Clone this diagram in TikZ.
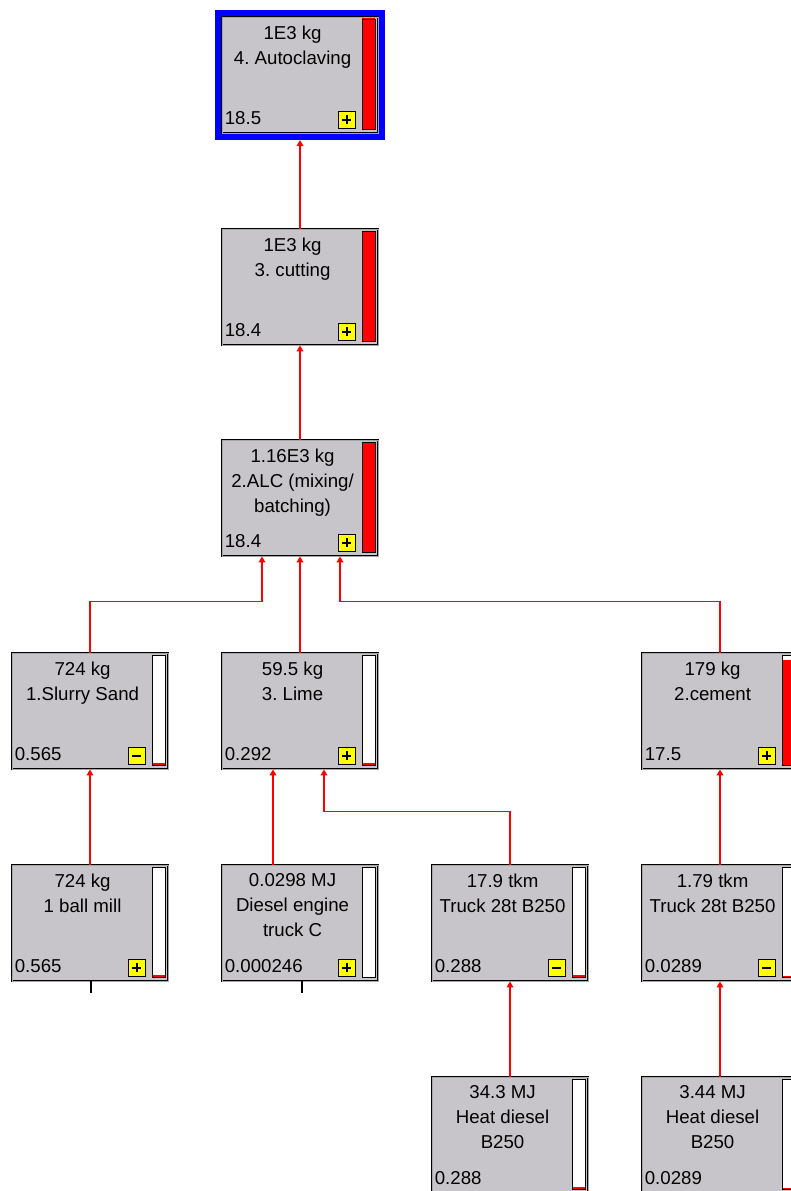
\documentclass[tikz,border=0pt]{standalone}
\usepackage{fontspec}
\setmainfont{Liberation Sans}
\usepackage{xcolor}
\usetikzlibrary{arrows.meta, calc}
\frenchspacing

\definecolor{boxgray}{RGB}{199,197,201}
\definecolor{selblue}{RGB}{0,0,255}
\definecolor{linkred}{RGB}{255,0,0}
\definecolor{btnyellow}{RGB}{255,255,0}

\tikzset{
    procbox/.style={rectangle, fill=boxgray, draw=black, double=gray!70, double distance=0.45pt, line width=0.65pt, minimum width=117pt, minimum height=87pt, inner sep=0pt},
    proctext/.style={anchor=north, align=center, inner sep=0pt, font=\fontsize{14}{18.75}\selectfont},
    procvalue/.style={anchor=base west, inner sep=0pt, font=\fontsize{14}{16}\selectfont},
    procbar/.style={draw=black, line width=0.9pt},
    btnbox/.style={rectangle, fill=btnyellow, draw=black, line width=0.8pt, minimum size=12.75pt, inner sep=0pt},
    link/.style={draw=linkred, line width=1.2pt, -{Triangle[width=5pt,length=4.5pt]}},
    stub/.style={draw=black, line width=0.9pt},
}

% process box: name, centre, text, value, red bar height, 1 = plus / 0 = minus / 2 = none
\newcommand{\process}[6]{%
    \node[procbox] (#1) at #2 {};
    \node[proctext] (#1-txt) at ($(#1.north west)+(71,9)$) {#3};
    \node[procvalue] (#1-val) at ($(#1.south west)+(3,-9)$) {#4};
    \fill[white] ($(#1.north east)+(-16,3)$) rectangle ($(#1.south east)+(-3,-4)$);
    \ifnum#5>0 \fill[linkred] ($(#1.south east)+(-16,-4)$) rectangle ($(#1.south east)+(-3,{-4-#5})$);\fi
    \draw[procbar] ($(#1.north east)+(-16,3)$) rectangle ($(#1.south east)+(-3,-4)$);
    \ifnum#6<2
        \node[btnbox] (#1-btn) at ($(#1.south east)+(-31.5,-13.5)$) {};
        \draw[line width=1.3pt] ($(#1-btn.center)+(-4.5,0)$) -- ($(#1-btn.center)+(4.5,0)$);
    \fi
    \ifnum#6=1 \draw[line width=1.3pt] ($(#1-btn.center)+(0,-4.5)$) -- ($(#1-btn.center)+(0,4.5)$);\fi
}

\begin{document}
\begin{tikzpicture}[x=0.75pt, y=-0.75pt]
    \useasboundingbox (0,0) rectangle (791,1191);
    \clip (0,0) rectangle (791,1191);

    % Process boxes
    \process{n4auto}{(300,75)}{1E3 kg\\4. Autoclaving}{18.5}{111}{1}
    \process{n3cut}{(300,287)}{1E3 kg\\3. cutting}{18.4}{110}{1}
    \process{n2alc}{(300,498)}{1.16E3 kg\\2.ALC (mixing/\\batching)}{18.4}{110}{1}
    \process{n1sand}{(90,711)}{724 kg\\1.Slurry Sand}{0.565}{2}{0}
    \process{n3lime}{(300,711)}{59.5 kg\\3. Lime}{0.292}{2}{1}
    \process{n2cement}{(720,711)}{179 kg\\2.cement}{17.5}{105}{1}
    \process{nballmill}{(90,923)}{724 kg\\1 ball mill}{0.565}{2}{1}
    \process{ndiesel}{(300,923)}{0.0298 MJ\\Diesel engine\\truck C}{0.000246}{0}{1}
    \process{ntruckA}{(510,923)}{17.9 tkm\\Truck 28t B250}{0.288}{2}{0}
    \process{ntruckB}{(720,923)}{1.79 tkm\\Truck 28t B250}{0.0289}{1}{0}
    \process{nheatA}{(510,1135)}{34.3 MJ\\Heat diesel\\B250}{0.288}{2}{2}
    \process{nheatB}{(720,1135)}{3.44 MJ\\Heat diesel\\B250}{0.0289}{1}{2}

    % Selected process frame
    \draw[selblue, line width=4.5pt] ($(n4auto.north west)+(-4,-4)$) rectangle ($(n4auto.south east)+(4,4)$);

    % Flows
    \coordinate (alcL) at ($(n2alc.south)+(-38,0)$);
    \coordinate (alcR) at ($(n2alc.south)+(40,0)$);
    \coordinate (limeL) at ($(n3lime.south)+(-27,0)$);
    \coordinate (limeR) at ($(n3lime.south)+(24,0)$);
    \draw[link, shorten >=5pt] (n3cut.north) -- (n4auto.south);
    \draw[link] (n2alc.north) -- (n3cut.south);
    \draw[link] (n1sand.north) |- ($(alcL)+(0,45)$) -- (alcL);
    \draw[link] (n3lime.north) -- (n2alc.south);
    \draw[link] (n2cement.north) |- ($(alcR)+(0,45)$) -- (alcR);
    \draw[link] (nballmill.north) -- (n1sand.south);
    \draw[link] (ndiesel.north -| limeL) -- (limeL);
    \draw[link] (ntruckA.north) |- ($(limeR)+(0,42)$) -- (limeR);
    \draw[link] (ntruckB.north) -- (n2cement.south);
    \draw[link] (nheatA.north) -- (ntruckA.south);
    \draw[link] (nheatB.north) -- (ntruckB.south);

    % Cut-off inputs
    \coordinate (millcut) at ($(nballmill.south)+(1,12)$);
    \coordinate (dieselcut) at ($(ndiesel.south)+(2,12)$);
    \draw[stub] (nballmill.south -| millcut) -- (millcut);
    \draw[stub] (ndiesel.south -| dieselcut) -- (dieselcut);
\end{tikzpicture}
\end{document}
